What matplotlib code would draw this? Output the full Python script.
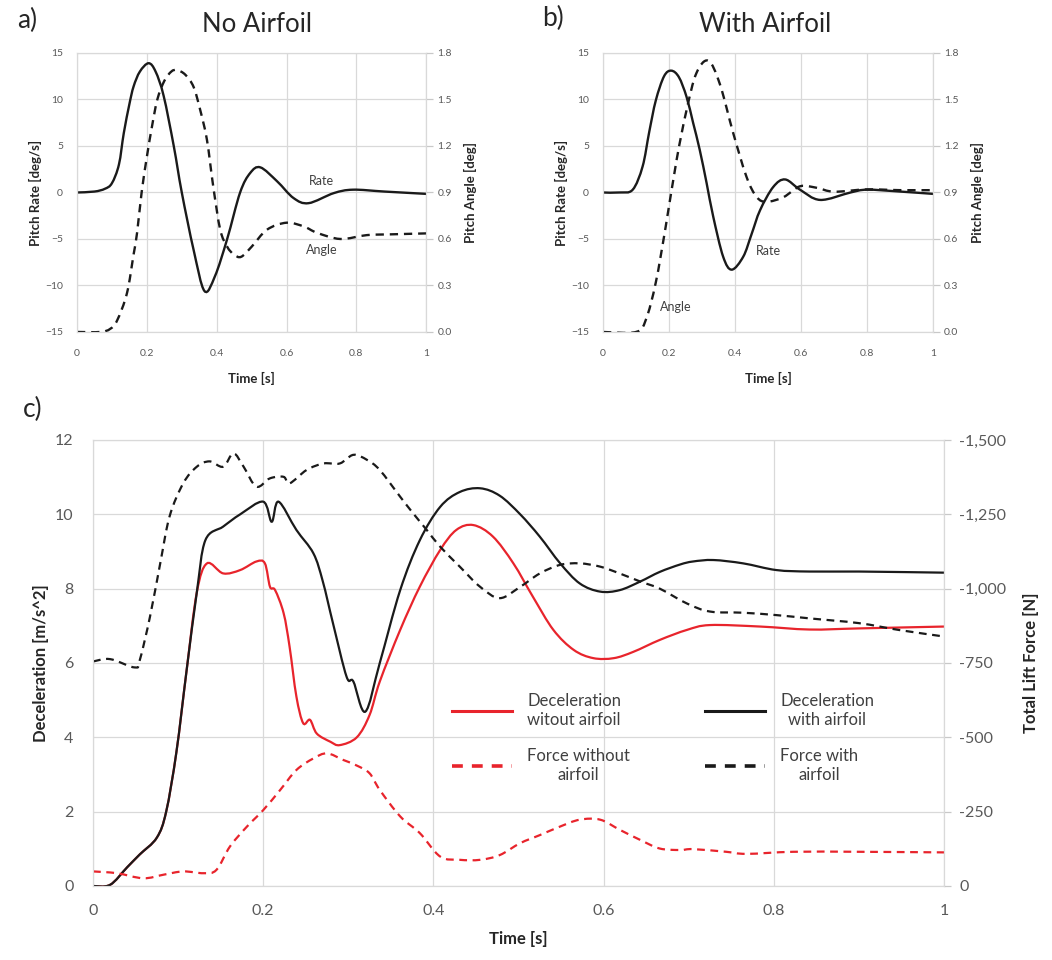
import numpy as np
import matplotlib
matplotlib.use("Agg")
import matplotlib.pyplot as plt
from matplotlib.ticker import FuncFormatter
from matplotlib.path import Path
from matplotlib.patches import PathPatch
from matplotlib.lines import Line2D

plt.rcParams['font.family'] = ['Lato', 'DejaVu Sans']

# ---- panel a: no airfoil ----
a_rate_t = [0, .05, .08, .1, .12, .134, .15, .162, .18, .205, .225, .248, .277, .30,
            .334, .365, .395, .43, .467, .496, .525, .573, .62, .663, .735, .79, .88, 1.0]
a_rate = [0, .1, .4, 1.0, 3.0, 6.4, 9.5, 11.4, 13.0, 13.9, 13.0, 10.4, 5.0, 0,
          -6.2, -10.6, -9.0, -5.0, 0, 2.1, 2.7, 1.2, -.6, -1.15, -.07, .3, .1, -.15]
a_angle_t = [0, .067, .095, .115, .143, .162, .172, .185, .2, .215, .23, .25, .27, .286,
             .31, .334, .353, .372, .39, .41, .43, .449, .47, .5, .544, .6, .65, .687, .754, .83, .9, 1.0]
a_angle = [0, 0, .02, .075, .25, .5, .64, .9, 1.13, 1.33, 1.5, 1.62, 1.68, 1.69,
           1.66, 1.58, 1.43, 1.24, .94, .66, .55, .5, .485, .55, .66, .705, .68, .64, .6, .625, .63, .636]

# ---- panel b: with airfoil ----
b_rate_t = [0, .05, .09, .12, .14, .16, .185, .207, .23, .253, .273, .293, .314, .334,
            .364, .39, .425, .45, .476, .516, .552, .597, .658, .75, .8, .9, 1.0]
b_rate = [0, 0, .3, 2.8, 6.5, 9.9, 12.5, 13.1, 12.4, 10.3, 7.5, 4.6, 1.0, -2.6,
          -6.9, -8.3, -6.9, -4.5, -1.9, .6, 1.4, .3, -.8, 0, .3, .1, -.15]
b_angle_t = [0, .1, .13, .16, .19, .223, .253, .283, .319, .354, .395, .435, .466, .496,
             .547, .597, .648, .7, .8, .9, 1.0]
b_angle = [0, 0, .08, .32, .68, 1.11, 1.43, 1.67, 1.75, 1.6, 1.28, 1.0, .87, .84,
           .87, .94, .93, .905, .92, .915, .915]

# ---- panel c: deceleration and lift force ----
dec_no_t = [0, .02, .04, .055, .075, .086, .098, .11, .122, .134, .153, .173, .192, .202,
            .208, .214, .224, .231, .239, .247, .255, .263, .279, .29, .31, .325, .337, .361,
            .384, .408, .427, .447, .47, .494, .517, .541, .565, .588, .612, .635, .666, .698,
            .725, .784, .842, .9, 1.0]
dec_no = [0, .03, .5, .85, 1.3, 2.0, 3.6, 5.8, 7.9, 8.68, 8.41, 8.5, 8.73, 8.68,
          8.05, 7.96, 7.34, 6.44, 5.1, 4.38, 4.47, 4.1, 3.88, 3.79, 4.0, 4.6, 5.5, 6.89,
          8.05, 9.04, 9.58, 9.71, 9.4, 8.68, 7.78, 6.89, 6.35, 6.13, 6.13, 6.3, 6.62, 6.89,
          7.02, 6.98, 6.9, 6.93, 6.98]
dec_with_t = [0, .02, .04, .055, .075, .086, .098, .11, .122, .132, .153, .173, .2, .21,
              .218, .239, .259, .27, .282, .298, .306, .32, .337, .361, .384, .408, .431,
              .455, .478, .502, .525, .549, .572, .596, .619, .643, .666, .69, .705, .729,
              .764, .803, .842, .9, 1.0]
dec_with = [0, .03, .5, .85, 1.3, 2.0, 3.6, 5.8, 7.9, 9.3, 9.67, 10.0, 10.34, 9.8,
            10.34, 9.58, 8.95, 8.2, 7.07, 5.63, 5.5, 4.69, 6.0, 7.96, 9.3, 10.2, 10.6,
            10.7, 10.5, 10.0, 9.4, 8.68, 8.14, 7.92, 7.96, 8.19, 8.45, 8.65, 8.73, 8.77,
            8.68, 8.5, 8.46, 8.46, 8.43]
force_no_t = [0, .028, .059, .083, .106, .13, .145, .161, .181, .2, .22, .239, .259, .275,
              .294, .31, .325, .337, .361, .384, .408, .431, .455, .478, .502, .525, .549,
              .572, .596, .619, .643, .666, .69, .705, .744, .768, .823, .9, 1.0]
force_no = [-49, -43, -26, -38, -49, -43, -54, -133, -200, -255, -323, -390, -429, -446,
            -424, -405, -379, -323, -234, -178, -99, -88, -88, -104, -144, -171, -200,
            -223, -223, -189, -155, -126, -121, -124, -115, -108, -115, -115, -113]
force_with_t = [0, .02, .049, .055, .067, .079, .09, .106, .122, .137, .153, .165, .177,
                .192, .208, .224, .231, .251, .271, .29, .306, .322, .337, .361, .376, .392,
                .408, .431, .455, .478, .502, .525, .549, .572, .596, .619, .643, .666, .698,
                .725, .764, .803, .842, .9, .947, 1.0]
force_with = [-755, -763, -735, -760, -906, -1085, -1243, -1354, -1410, -1428, -1410, -1455,
              -1410, -1343, -1371, -1376, -1354, -1399, -1421, -1421, -1450, -1433, -1399,
              -1309, -1254, -1198, -1141, -1074, -1006, -968, -1006, -1051, -1080, -1085,
              -1074, -1051, -1024, -1000, -950, -923, -919, -911, -900, -884, -861, -839]

RED = '#e8242c'
BLK = '#1a1a1a'
GRID = '#d9d9d9'
TICKC = '#595959'
LABC = '#262626'
DASH = (0, (3.5, 2.5))
xtick_vals = [0, .2, .4, .6, .8, 1]
xtick_labels = ['0', '0.2', '0.4', '0.6', '0.8', '1']

fig = plt.figure(figsize=(10.52, 9.6), dpi=100)


def smooth_line(ax, x, y, **kw):
    # Excel-style smoothed line: bezier segments through the points
    p = np.column_stack([x, y]).astype(float)
    verts = [p[0]]
    codes = [Path.MOVETO]
    n = len(p)
    for i in range(n - 1):
        p0 = p[i - 1] if i > 0 else p[i]
        p3 = p[i + 2] if i + 2 < n else p[i + 1]
        c1 = p[i] + (p[i + 1] - p0) / 6
        c2 = p[i + 1] - (p3 - p[i]) / 6
        verts += [c1, c2, p[i + 1]]
        codes += [Path.CURVE4] * 3
    patch = PathPatch(Path(verts, codes), fill=False, capstyle='butt', **kw)
    ax.add_patch(patch)
    return patch


def style(ax, size):
    ax.grid(True, color=GRID, lw=0.9)
    ax.set_axisbelow(True)
    for s in ax.spines.values():
        s.set_color(GRID)
    ax.tick_params(length=0, labelsize=size, colors=TICKC, pad=6)


def right_ticks(ax, pad):
    ax.tick_params(axis='y', length=5, width=0.9, color='#c8c8c8',
                   labelcolor=TICKC, pad=pad)


def pitch_panel(rect, rt, rv, at, av, title, letter, lx, ly, tx, rate_pos, angle_pos):
    ax = fig.add_axes(rect)
    smooth_line(ax, rt, rv, edgecolor=BLK, lw=1.7)
    ax.set_xlim(0, 1)
    ax.set_ylim(-15, 15)
    ax.set_yticks(range(-15, 16, 5))
    ax.set_xticks(xtick_vals)
    ax.set_xticklabels(xtick_labels)
    style(ax, 7.5)
    ax.tick_params(axis='x', pad=12)
    ax.tick_params(axis='y', pad=10)
    ax.set_ylabel('Pitch Rate [deg/s]', fontsize=9.5, fontweight='bold', color=LABC,
                  labelpad=2)
    ax.set_xlabel('Time [s]', fontsize=9.5, fontweight='bold', color=LABC, labelpad=10)
    ax2 = ax.twinx()
    smooth_line(ax2, at, av, edgecolor=BLK, lw=1.7, linestyle=DASH)
    ax2.set_ylim(0, 1.8)
    ax2.set_yticks(np.arange(0, 1.81, 0.3))
    ax2.yaxis.set_major_formatter(FuncFormatter(lambda v, p: f'{v:.1f}'))
    style(ax2, 7.5)
    ax2.grid(False)
    right_ticks(ax2, 3)
    ax2.set_ylabel('Pitch Angle [deg]', fontsize=9.5, fontweight='bold', color=LABC,
                   labelpad=9)
    ax.text(rate_pos[0], rate_pos[1], 'Rate', fontsize=9, color='#404040',
            ha='center', va='center')
    ax.text(angle_pos[0], angle_pos[1], 'Angle', fontsize=9, color='#404040',
            ha='center', va='center')
    fig.text(lx, ly, letter, fontsize=19, va='center', ha='left', color=LABC)
    fig.text(tx, 0.975, title, fontsize=18.5, va='center', ha='center', color=LABC)
    return ax


pitch_panel([0.0732, 0.6542, 0.332, 0.2906], a_rate_t, a_rate, a_angle_t, a_angle,
            'No Airfoil', 'a)', 0.016, 0.979, 0.244, (0.70, 1.2), (0.70, -6.2))
pitch_panel([0.5732, 0.6542, 0.3137, 0.2906], b_rate_t, b_rate, b_angle_t, b_angle,
            'With Airfoil', 'b)', 0.515, 0.981, 0.727, (0.50, -6.3), (0.22, -12.3))

# ---- panel c ----
axc = fig.add_axes([0.0884, 0.0771, 0.8089, 0.4646])
smooth_line(axc, dec_no_t, dec_no, edgecolor=RED, lw=1.6)
smooth_line(axc, dec_with_t, dec_with, edgecolor=BLK, lw=1.6)
axc.set_xlim(0, 1)
axc.set_ylim(0, 12)
axc.set_yticks(range(0, 13, 2))
axc.set_xticks(xtick_vals)
axc.set_xticklabels(xtick_labels)
style(axc, 11.5)
axc.tick_params(axis='y', pad=14)
axc.tick_params(axis='x', pad=13)
axc.set_ylabel('Deceleration [m/s^2]', fontsize=12, fontweight='bold', color=LABC)
axc.set_xlabel('Time [s]', fontsize=12, fontweight='bold', color=LABC, labelpad=9)

axf = axc.twinx()
smooth_line(axf, force_no_t, force_no, edgecolor=RED, lw=1.6, linestyle=DASH)
smooth_line(axf, force_with_t, force_with, edgecolor=BLK, lw=1.6, linestyle=DASH)
axf.set_ylim(0, -1500)
axf.set_yticks(range(0, -1501, -250))
axf.yaxis.set_major_formatter(FuncFormatter(lambda v, p: f'{int(v):,}'))
style(axf, 11.5)
axf.grid(False)
right_ticks(axf, 6)
axf.set_ylabel('Total Lift Force [N]', fontsize=12, fontweight='bold', color=LABC,
               labelpad=12)

handles = [Line2D([], [], color=RED, lw=2.2),
           Line2D([], [], color=RED, lw=2.6, ls=(0, (3, 2.5))),
           Line2D([], [], color=BLK, lw=2.2),
           Line2D([], [], color=BLK, lw=2.6, ls=(0, (3, 2.5)))]
labels = ['Deceleration\nwitout airfoil', 'Force without\nairfoil',
          'Deceleration\nwith airfoil', 'Force with\nairfoil']
leg = axf.legend(handles, labels, ncol=2, frameon=False, fontsize=12,
                 loc='center', bbox_to_anchor=(0.67, 0.332), handlelength=3.6,
                 columnspacing=4.5, labelspacing=1.2, handletextpad=0.9)
for t in leg.get_texts():
    t.set_multialignment('center')
    t.set_color('#404040')

fig.text(0.022, 0.573, 'c)', fontsize=19, va='center', ha='left', color=LABC)

fig.savefig('out.png', dpi=100)
